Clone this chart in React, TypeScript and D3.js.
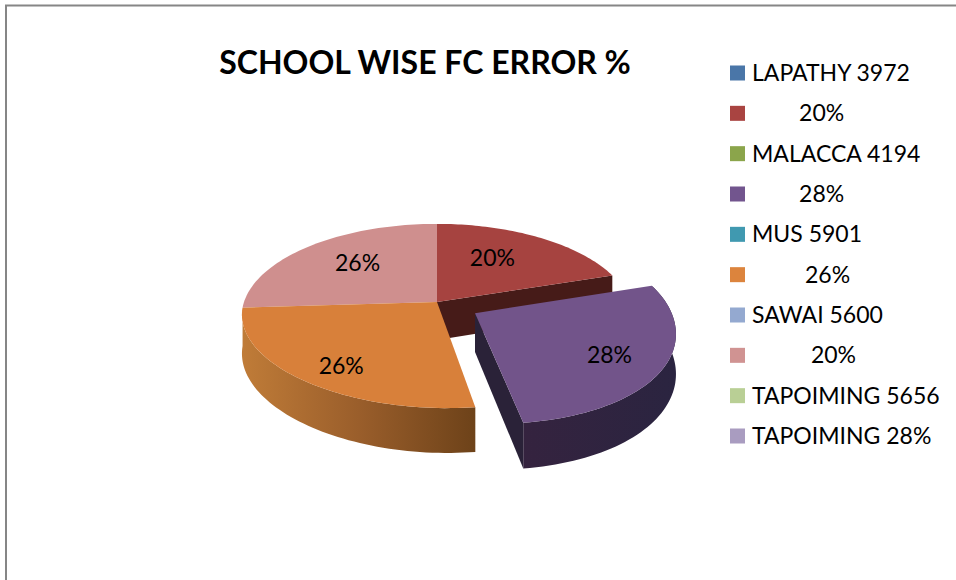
import React from "react";
import * as d3 from "d3";

// Chart content
const chartTitle = "SCHOOL WISE FC ERROR %";
const sliceValues = [20, 28, 26, 26];
const sliceTopColors = ["#a64340", "#72548a", "#d8803a", "#cf8f8e"];
const sliceLabels = ["20%", "28%", "26%", "26%"];
const explodedSlice = 1;

const legendLabels = [
  "LAPATHY 3972",
  "        20%",
  "MALACCA 4194",
  "        28%",
  "MUS 5901",
  "         26%",
  "SAWAI 5600",
  "          20%",
  "TAPOIMING 5656",
  "TAPOIMING 28%",
];
const legendColors = [
  "#4a76a8", "#a94441", "#8ba54b", "#72558e", "#4099b0",
  "#dc843d", "#94a9d0", "#d09392", "#b9cf95", "#a99cc0",
];

// Layout of the tilted pie
const WIDTH = 956;
const HEIGHT = 580;
const FONT = "Lato, 'Open Sans', sans-serif";
const apex = { x: 437, y: 302 };
const radiusX = 193;
const radiusY = 90;
const perspective = 0.152;
const skew = 10;
const depth = 38;
const explodeBy = 0.228;
const labelShift = [
  { dx: -6, dy: -6 },
  { dx: 22, dy: 8 },
  { dx: 9, dy: 2 },
  { dx: 0, dy: -5 },
];
const labelRadius = [0.58, 0.62, 0.8, 0.6];

type Pt = [number, number];

// Project a point on the pie's unit disc to the screen, with height z below the top face.
function project(u: number, v: number, z = 0): Pt {
  const s = 1 / (1 - perspective * v);
  const lean = v > 0 ? skew * v * v : 0;
  return [
    apex.x + radiusX * u * s + lean,
    apex.y + radiusY * v * s + z * s,
  ];
}

const disc = (a: number, r = 1): Pt => [r * Math.sin(a), -r * Math.cos(a)];

const pieLayout = d3.pie<number>().sort(null).value((d) => d);
const slices = pieLayout(sliceValues);
const closed = d3.line<Pt>().curve(d3.curveLinearClosed);

function sliceGeometry(i: number) {
  const { startAngle, endAngle } = slices[i];
  const mid = (startAngle + endAngle) / 2;
  const [ou, ov] = i === explodedSlice ? disc(mid, explodeBy) : [0, 0];
  const angles = d3.range(0, 61).map((k) => startAngle + ((endAngle - startAngle) * k) / 60);
  const rim = (z: number) =>
    angles.map((a) => {
      const [u, v] = disc(a);
      return project(u + ou, v + ov, z);
    });
  const centre = (z: number) => project(ou, ov, z);
  return {
    top: closed([centre(0), ...rim(0)]) as string,
    side: closed([...rim(0), ...rim(depth).reverse()]) as string,
    startWall: closed([centre(0), rim(0)[0], rim(depth)[0], centre(depth)]) as string,
    endWall: closed([centre(0), rim(0)[60], rim(depth)[60], centre(depth)]) as string,
    mid,
    offset: [ou, ov] as Pt,
  };
}

const geometry = sliceValues.map((_, i) => sliceGeometry(i));

const legendY = d3.scalePoint<number>().domain(d3.range(legendLabels.length)).range([73, 436]);

function labelPoint(i: number): Pt {
  const g = geometry[i];
  const [u, v] = disc(g.mid, labelRadius[i]);
  const [x, y] = project(u + g.offset[0], v + g.offset[1]);
  return [x + labelShift[i].dx, y + labelShift[i].dy];
}

export default function App() {
  return (
    <svg
      width={WIDTH}
      height={HEIGHT}
      viewBox={`0 0 ${WIDTH} ${HEIGHT}`}
      style={{ position: "absolute", left: 0, top: 0, display: "block", background: "#fff" }}
    >
      <defs>
        <linearGradient id="orangeSide" gradientUnits="userSpaceOnUse" x1={241} x2={476} y1={0} y2={0}>
          <stop offset="0" stopColor="#c07c38" />
          <stop offset="0.5" stopColor="#9a5e2b" />
          <stop offset="1" stopColor="#6d4219" />
        </linearGradient>
        <linearGradient id="purpleSide" gradientUnits="userSpaceOnUse" x1={520} x2={680} y1={0} y2={0}>
          <stop offset="0" stopColor="#35233f" />
          <stop offset="1" stopColor="#2a2440" />
        </linearGradient>
      </defs>

      {/* Chart frame */}
      <path d={`M6,${HEIGHT} V5.5 H${WIDTH}`} fill="none" stroke="#868686" strokeWidth={2} />

      <text x={425} y={61} textAnchor="middle" dominantBaseline="central"
        fontFamily={FONT} fontWeight={700} fontSize={32} fill="#000">
        {chartTitle}
      </text>

      {/* Back wall of the red slice, seen through the gap */}
      <path d={geometry[0].endWall} fill="#461b18" />

      {/* Remaining slices of the main body */}
      <path d={geometry[2].side} fill="url(#orangeSide)" />
      <path d={geometry[3].top} fill={sliceTopColors[3]} />
      <path d={geometry[0].top} fill={sliceTopColors[0]} />
      <path d={geometry[2].top} fill={sliceTopColors[2]} />

      {/* Pulled-out slice */}
      <path d={geometry[1].side} fill="url(#purpleSide)" />
      <path d={geometry[1].endWall} fill="#2a2238" />
      <path d={geometry[1].top} fill={sliceTopColors[1]} />

      {sliceLabels.map((label, i) => {
        const [x, y] = labelPoint(i);
        return (
          <text key={i} x={x} y={y} textAnchor="middle" dominantBaseline="central"
            fontFamily={FONT} fontSize={23} fill="#000">
            {label}
          </text>
        );
      })}

      {/* Legend */}
      {legendLabels.map((label, i) => {
        const y = legendY(i) as number;
        return (
          <g key={i}>
            <rect x={730} y={y - 7.5} width={15} height={15} fill={legendColors[i]} />
            <text x={752} y={y - 1} dominantBaseline="central" fontFamily={FONT} fontSize={23}
              fill="#000" style={{ whiteSpace: "pre" }}>
              {label}
            </text>
          </g>
        );
      })}
    </svg>
  );
}
